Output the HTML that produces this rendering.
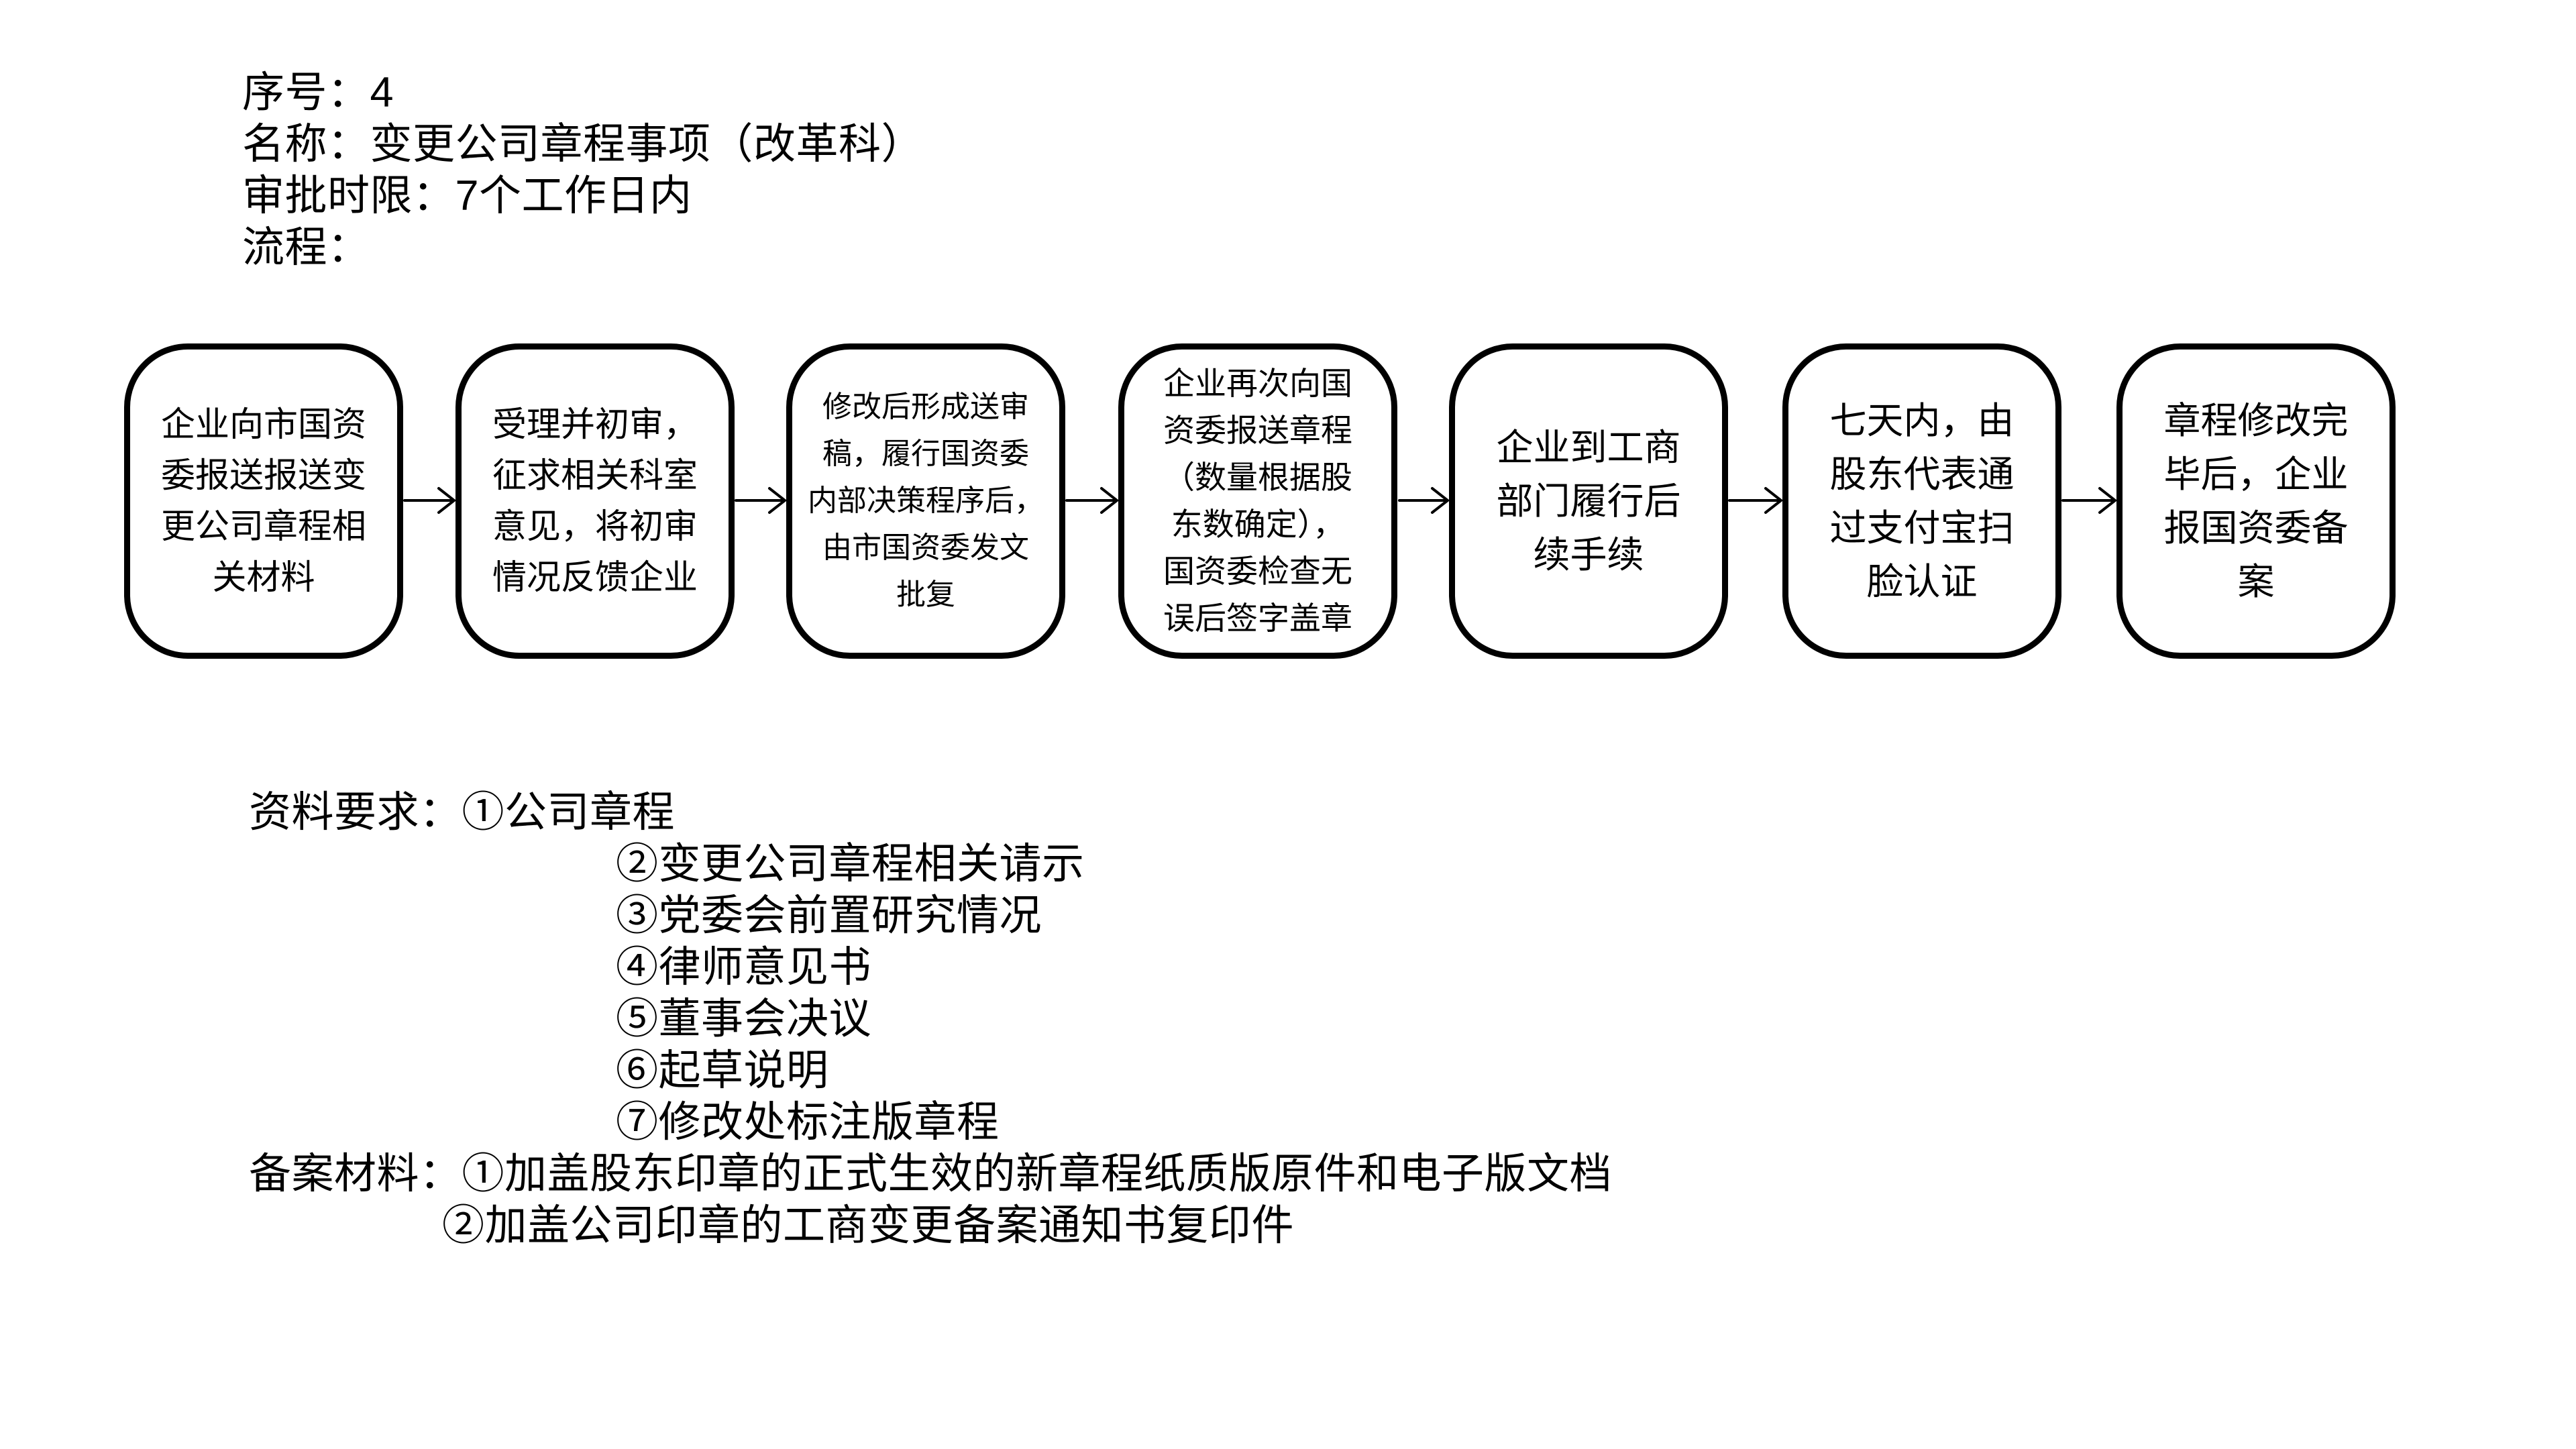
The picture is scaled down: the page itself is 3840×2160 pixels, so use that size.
<!DOCTYPE html>
<html><head><meta charset="utf-8">
<style>
html,body{margin:0;padding:0;background:#fff;}
body{width:3840px;height:2160px;position:relative;overflow:hidden;font-family:"Liberation Sans","Noto Sans CJK SC",sans-serif;color:#000;}
.t{position:absolute;font-size:63px;line-height:77px;white-space:pre;letter-spacing:0.5px;}
.b{position:absolute;top:512px;width:398px;height:452px;border:9px solid #000;border-radius:95px;display:flex;align-items:center;justify-content:center;text-align:center;box-sizing:content-box;}
.b div{width:100%;}
svg{position:absolute;left:0;top:0;}
</style></head><body>
<div class="t" style="left:361px;top:100px;">序号：4
名称：变更公司章程事项（改革科）
审批时限：7个工作日内
流程：</div>

<div class="b" style="left:185px;font-size:51px;line-height:76px;"><div>企业向市国资<br>委报送报送变<br>更公司章程相<br>关材料</div></div>
<div class="b" style="left:679px;font-size:51px;line-height:76px;"><div>受理并初审，<br>征求相关科室<br>意见，将初审<br>情况反馈企业</div></div>
<div class="b" style="left:1172px;font-size:44px;line-height:70px;"><div>修改后形成送审<br>稿，履行国资委<br>内部决策程序后，<br>由市国资委发文<br>批复</div></div>
<div class="b" style="left:1667px;font-size:47px;line-height:70px;"><div>企业再次向国<br>资委报送章程<br>（数量根据股<br>东数确定），<br>国资委检查无<br>误后签字盖章</div></div>
<div class="b" style="left:2160px;font-size:55px;line-height:80px;"><div>企业到工商<br>部门履行后<br>续手续</div></div>
<div class="b" style="left:2657px;font-size:55px;line-height:80px;"><div>七天内，由<br>股东代表通<br>过支付宝扫<br>脸认证</div></div>
<div class="b" style="left:3155px;font-size:55px;line-height:80px;"><div>章程修改完<br>毕后，企业<br>报国资委备<br>案</div></div>

<svg width="3840" height="2160" viewBox="0 0 3840 2160">
<g stroke="#000" stroke-width="4" fill="none" stroke-linecap="round">
<path d="M603 746 L676 746 M654 728 L677 746 L654 764"/>
<path d="M1097 746 L1169 746 M1147 728 L1170 746 L1147 764"/>
<path d="M1590 746 L1664 746 M1642 728 L1665 746 L1642 764"/>
<path d="M2086 746 L2157 746 M2135 728 L2158 746 L2135 764"/>
<path d="M2578 746 L2654 746 M2632 728 L2655 746 L2632 764"/>
<path d="M3075 746 L3152 746 M3130 728 L3153 746 L3130 764"/>
</g>
</svg>

<div class="t" style="left:371px;top:1173px;">资料要求：①公司章程</div>
<div class="t" style="left:918px;top:1250px;">②变更公司章程相关请示
③党委会前置研究情况
④律师意见书
⑤董事会决议
⑥起草说明
⑦修改处标注版章程</div>
<div class="t" style="left:371px;top:1712px;">备案材料：①加盖股东印章的正式生效的新章程纸质版原件和电子版文档</div>
<div class="t" style="left:659px;top:1789px;">②加盖公司印章的工商变更备案通知书复印件</div>
</body></html>
